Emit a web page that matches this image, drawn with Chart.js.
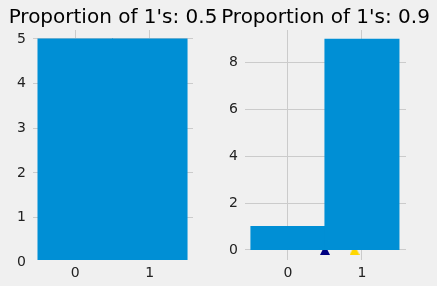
<!DOCTYPE html>
<html>
<head>
<meta charset="utf-8">
<script src="https://cdn.jsdelivr.net/npm/chart.js@4/dist/chart.umd.min.js"></script>
<style>
  html, body { margin: 0; padding: 0; background: #f0f0f0; }
  #wrap { position: relative; width: 437px; height: 286px; overflow: hidden; }
  canvas { position: absolute; top: 0; }
</style>
</head>
<body>
<div id="wrap">
  <canvas id="left" width="218" height="286" style="left:0"></canvas>
  <canvas id="right" width="219" height="286" style="left:218px"></canvas>
</div>
<script>
const binValues = [0, 1];
const leftCounts = [5, 5];
const rightCounts = [1, 9];
const leftTitle = "Proportion of 1's: 0.5";
const rightTitle = "Proportion of 1's: 0.9";
const markerX = [0.5, 0.9];
const markerY = [0, 0];
const markerColors = ['#000080', '#ffd700'];
const xTicks = [0, 1];
const leftYTicks = [0, 1, 2, 3, 4, 5];
const rightYTicks = [0, 2, 4, 6, 8];

const FONT = '"DejaVu Sans", sans-serif';
const BAR = '#008fd5';
const GRID = '#cbcbcb';

// title centred over the plot area like matplotlib does (the built-in one gets squeezed)
const axesTitle = {
    id: 'axesTitle',
    afterDraw(chart, args, opts) {
        const ctx = chart.ctx;
        const area = chart.chartArea;
        ctx.save();
        ctx.font = '20px ' + FONT;
        ctx.fillStyle = '#000';
        ctx.textAlign = 'center';
        ctx.textBaseline = 'alphabetic';
        ctx.fillText(opts.text, (area.left + area.right) / 2, 22.5);
        ctx.restore();
    }
};

function makeTriangle(color, size) {
    const c = document.createElement('canvas');
    c.width = size;
    c.height = size;
    const g = c.getContext('2d');
    g.fillStyle = color;
    g.beginPath();
    g.moveTo(size / 2, 0);
    g.lineTo(size, size);
    g.lineTo(0, size);
    g.closePath();
    g.fill();
    return c;
}

function xScale(min, max) {
    return {
        type: 'linear',
        min: min,
        max: max,
        offset: false,
        afterBuildTicks: s => { s.ticks = xTicks.map(v => ({ value: v })); },
        afterFit: s => { s.height = 26; },
        grid: { color: GRID, lineWidth: 1, drawTicks: false, offset: false },
        border: { display: false },
        ticks: { color: '#222', font: { family: FONT, size: 14 }, padding: 5 }
    };
}

function yScale(min, max, ticks, width) {
    return {
        type: 'linear',
        min: min,
        max: max,
        afterBuildTicks: s => { s.ticks = ticks.map(v => ({ value: v })); },
        afterFit: s => { s.width = width; },
        grid: {
            color: ctx => (ctx.tick && ctx.tick.value < min) ? 'rgba(0,0,0,0)' : GRID,
            lineWidth: 1,
            drawTicks: false
        },
        border: { display: false },
        ticks: { color: '#222', font: { family: FONT, size: 14 }, padding: 7 }
    };
}

function makeChart(id, counts, title, xr, yr, yTicks, yWidth, padRight, withMarkers) {
    const datasets = [{
        type: 'bar',
        data: binValues.map((v, i) => ({ x: v, y: counts[i] })),
        backgroundColor: BAR,
        borderWidth: 0,
        inflateAmount: 0.5,
        barPercentage: 1,
        categoryPercentage: 1,
        order: 0
    }];
    if (withMarkers) {
        datasets.push({
            type: 'scatter',
            data: markerX.map((v, i) => ({ x: v, y: markerY[i] })),
            pointStyle: markerColors.map(c => makeTriangle(c, 10)),
            pointRadius: 5,
            order: 1
        });
    }
    return new Chart(document.getElementById(id), {
        type: 'bar',
        data: { datasets: datasets },
        options: {
            responsive: false,
            animation: false,
            layout: { padding: { left: 0, right: padRight, top: 30, bottom: 0 } },
            plugins: {
                legend: { display: false },
                tooltip: { enabled: false },
                title: { display: false },
                axesTitle: { text: title }
            },
            scales: {
                x: xScale(xr[0], xr[1]),
                y: yScale(yr[0], yr[1], yTicks, yWidth)
            }
        },
        plugins: [axesTitle]
    });
}

makeChart('left', leftCounts, leftTitle, [-0.567, 1.58], [0.05, 5.2], leftYTicks, 33, 25, false);
makeChart('right', rightCounts, rightTitle, [-0.58, 1.595], [-0.43, 9.4], rightYTicks, 27, 31, true);
</script>
</body>
</html>
